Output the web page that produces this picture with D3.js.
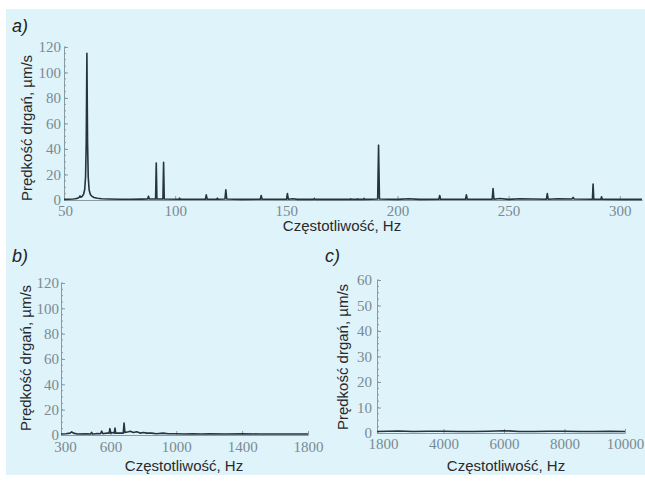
<!DOCTYPE html>
<html><head><meta charset="utf-8">
<script src="https://cdn.jsdelivr.net/npm/d3@7"></script>
<style>body{margin:0;background:#fff}svg{display:block}
.tk text{font-family:"Liberation Serif","Times New Roman","DejaVu Serif",serif !important;font-size:15px !important}
</style>
</head><body>
<svg id="c" width="645" height="484"></svg>
<script>
// ---- data ----
const xTitle = "Częstotliwość, Hz";
const yTitle = "Prędkość drgań, µm/s";
const panelLabels = ["a)", "b)", "c)"];

const aTicksX = [50, 100, 150, 200, 250, 300];
const aTicksY = [0, 20, 40, 60, 80, 100, 120];
const aFreq = [50,52,54,55,56,56.8,57.2,57.6,58.2,58.8,59.3,59.7,60.0,60.3,60.6,60.9,61.3,61.8,62.5,63.5,65,67,70,75,80,85,
  87.6,88,88.4,91.2,91.5,91.8,94.5,94.8,95.1,101.7,102,102.3,113.6,114,114.4,118.7,119,119.3,122.4,122.8,123.2,130,
  138.3,138.7,139.1,150.1,150.5,150.9,153,155,162.3,162.6,162.9,170,178.7,179,179.3,181.7,182,182.3,184.7,185,185.3,
  191.1,191.5,191.9,200,205,210,218.6,219,219.4,230.6,231,231.4,242.6,243,243.4,246,250,255,267,267.4,267.8,272,
  278.5,279,279.5,287.7,288,288.3,291.5,291.8,292.1,300,310];
const aAmp = [0.5,0.6,0.8,1,1.3,2.0,3.2,2.2,2.8,4.5,8,18,45,115,45,18,8,4.5,3,2,1.4,1,0.8,0.6,0.6,0.7,
  0.8,3,0.8,0.8,29,0.8,0.8,29.5,0.8,0.6,1.5,0.6,0.6,4,0.6,0.6,1.5,0.6,0.8,8,0.8,0.5,
  0.6,3.5,0.6,0.6,5,0.6,1,0.5,0.5,1.2,0.5,0.5,0.5,1,0.5,0.5,1,0.5,0.5,1.2,0.5,
  0.8,43,0.8,0.5,1,0.5,0.6,3.5,0.6,0.6,4,0.6,0.6,9,0.6,1.2,0.5,1,0.6,5,0.6,1,
  0.8,2,0.8,0.6,12.5,0.6,0.6,2.5,0.6,0.5,0.5];

const bTicksX = [300, 600, 1000, 1400, 1800];
const bTicksY = [0, 20, 40, 60, 80, 100, 120];
const bFreq = [300,330,355,365,375,400,450,480,486,492,500,520,540,547,554,560,580,592,597,602,620,624,628,632,650,670,
  678,683,688,710,720,740,760,780,800,820,850,880,920,950,1000,1050,1100,1150,1200,1300,1400,1500,1600,1700,1800];
const bAmp = [0.8,1,1.5,2.5,1.5,0.8,1,0.8,2,0.8,0.8,1.2,1,3,1,1.2,1.5,1.5,5,1.5,2,1.5,5.5,1.5,1.5,1.5,
  1.5,9.5,2,2.5,3,2,2.5,1.5,2,1.5,1.5,1,1.5,1,1,0.8,1,0.8,1,0.8,1,0.8,0.8,0.8,0.8];

const cTicksX = [1800, 4000, 6000, 8000, 10000];
const cTicksY = [0, 10, 20, 30, 40, 50, 60];
const cFreq = [1800,2500,3000,3500,4000,4500,5000,5500,6000,6500,7000,7500,8000,8500,9000,9500,10000];
const cAmp = [0.6,0.8,0.6,0.7,0.7,0.6,0.6,0.7,0.9,0.6,0.6,0.7,0.7,0.6,0.6,0.7,0.6];

// ---- layout / style ----
const svg = d3.select("#c");
svg.append("rect").attr("x", 6).attr("y", 9).attr("width", 639).attr("height", 466).attr("fill", "#dff3fb");

const tickColor = "#7a8a91", axisColor = "#8a9aa1", lineColor = "#26343b";
const serif = "'Liberation Serif', 'Times New Roman', 'DejaVu Serif', serif";

const panels = [
  {label: panelLabels[0], lx: 12, ly: 32, freq: aFreq, amp: aAmp, tx: aTicksX, ty: aTicksY,
   x: d3.scaleLinear().domain([50, 310]).range([64, 642]),
   y: d3.scaleLinear().domain([0, 120]).range([200, 47]),
   minorY: 5, padY: 3, padX: 5, firstDx: 1, xt: [342, 231], yt: [27, 128]},
  {label: panelLabels[1], lx: 12, ly: 262, freq: bFreq, amp: bAmp, tx: bTicksX, ty: bTicksY,
   x: d3.scaleLinear().domain([300, 1800]).range([61, 308]),
   y: d3.scaleLinear().domain([0, 120]).range([435, 283]),
   minorY: 5, padY: 2, padX: 6, firstDx: 4, xt: [184, 471], yt: [26, 358]},
  {label: panelLabels[2], lx: 325, ly: 262, freq: cFreq, amp: cAmp, tx: cTicksX, ty: cTicksY,
   x: d3.scaleLinear().domain([1800, 10000]).range([377, 625]),
   y: d3.scaleLinear().domain([0, 60]).range([433, 280]),
   minorY: 2.5, padY: 5, padX: 5, firstDx: 6, xt: [506, 471], yt: [343, 357]}
];

panels.forEach(p => {
  const [x0, x1] = p.x.range(), [y0, y1] = p.y.range();
  const g = svg.append("g");

  // y axis
  const ya = g.append("g").attr("class", "tk").attr("transform", `translate(${x0},0)`)
    .call(d3.axisLeft(p.y).tickValues(p.ty).tickSizeInner(-4).tickSizeOuter(0).tickPadding(p.padY));
  ya.attr("font-family", serif).attr("font-size", 15);
  ya.select(".domain").attr("stroke", axisColor);
  ya.selectAll(".tick line").attr("stroke", axisColor);
  ya.selectAll("text").attr("fill", tickColor);
  const ym = p.y.domain()[1];
  const minors = d3.range(0, ym + 0.001, p.minorY);
  g.selectAll(null).data(minors).enter().append("line")
    .attr("x1", x0).attr("x2", x0 + 2).attr("y1", d => p.y(d)).attr("y2", d => p.y(d))
    .attr("stroke", axisColor).attr("stroke-width", 1);

  // x axis
  const xa = g.append("g").attr("class", "tk").attr("transform", `translate(0,${y0})`)
    .call(d3.axisBottom(p.x).tickValues(p.tx).tickSizeInner(-4).tickSizeOuter(0).tickPadding(p.padX)
      .tickFormat(d3.format("d")));
  xa.attr("font-family", serif).attr("font-size", 15);
  xa.select(".domain").attr("stroke", axisColor);
  xa.selectAll(".tick line").attr("stroke", axisColor);
  xa.selectAll("text").attr("fill", tickColor).attr("dx", (d, i) => i === 0 ? p.firstDx : 0);

  // spectrum
  const pts = p.freq.map((f, i) => [f, p.amp[i]]);
  g.append("path").datum(pts)
    .attr("d", d3.line().x(d => p.x(d[0])).y(d => p.y(d[1])))
    .attr("fill", "none").attr("stroke", lineColor).attr("stroke-width", 1.6).attr("stroke-linejoin", "round");

  // titles
  g.append("text").attr("x", p.xt[0]).attr("y", p.xt[1]).attr("text-anchor", "middle")
    .style("font-family", "'Liberation Sans', Arial, sans-serif").style("font-size", "15px").attr("fill", "#2a2a2a")
    .text(xTitle);
  g.append("text").attr("transform", `translate(${p.yt[0]},${p.yt[1]}) rotate(-90)`).attr("text-anchor", "middle")
    .attr("dy", "0.35em")
    .style("font-family", "'Liberation Sans', Arial, sans-serif").style("font-size", "15px").attr("fill", "#2a2a2a")
    .text(yTitle);
  g.append("text").attr("x", p.lx).attr("y", p.ly)
    .style("font-family", "'Liberation Sans', Arial, sans-serif").style("font-size", "18px").style("font-style", "italic")
    .attr("fill", "#222").text(p.label);
});
</script>
</body></html>
